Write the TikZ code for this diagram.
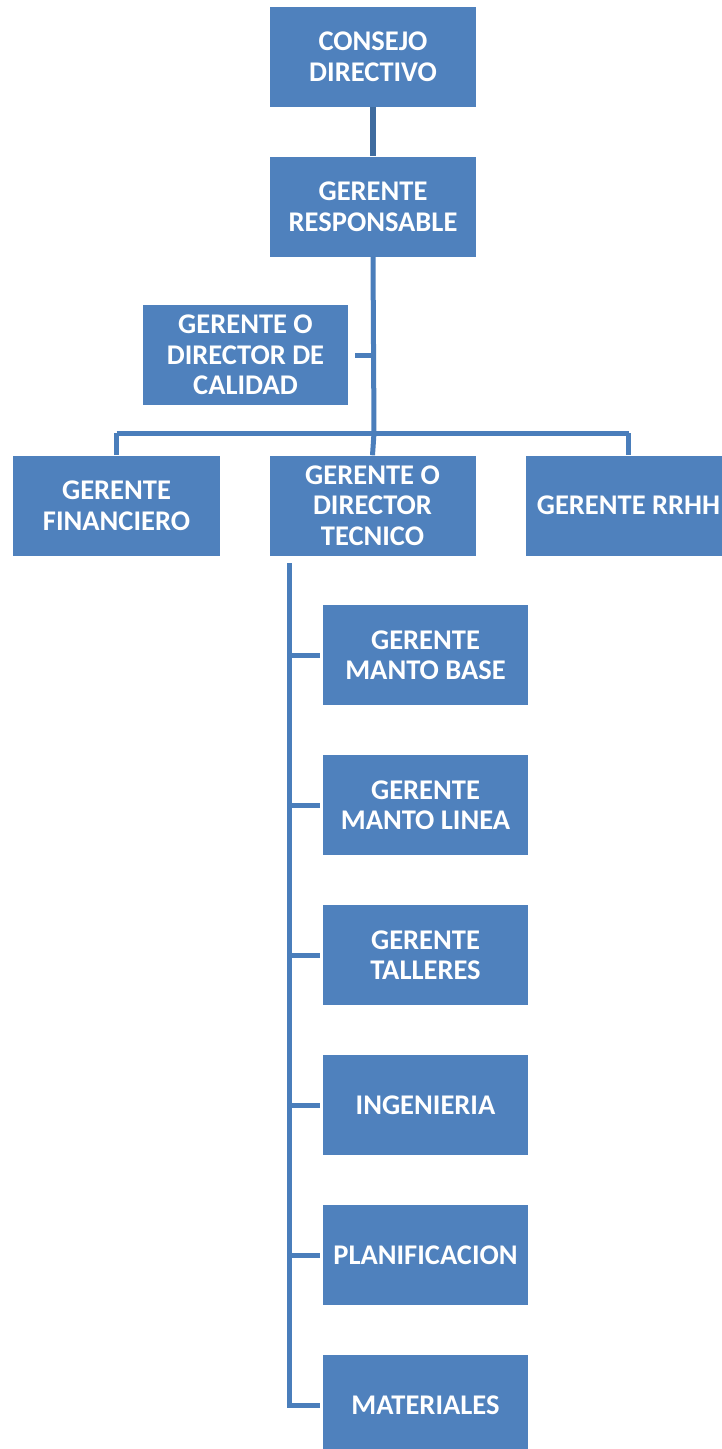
\documentclass[tikz,border=0pt]{standalone}
\usepackage{fontspec}
\setmainfont{Carlito}
\usetikzlibrary{positioning}
\usetikzlibrary{calc}

\definecolor{boxblue}{HTML}{4F81BD}
\definecolor{lineblue}{HTML}{4A7EBB}
\definecolor{topline}{HTML}{3F6C9F}

\tikzset{
    cargo/.style={fill=boxblue, text=white, font=\bfseries\fontsize{28.5}{30.5}\selectfont,
        align=center, inner sep=0pt, minimum width=206pt, minimum height=100pt},
    enlace/.style={draw=lineblue, line width=5pt},
}

\begin{document}
\begin{tikzpicture}[x=1pt, y=-1pt]
    \useasboundingbox (0,0) rectangle (721,1449);

    % niveles superiores
    \node[cargo] (consejo) at (373,56.5) {CONSEJO\\DIRECTIVO};
    \node[cargo] (responsable) at (373,206.5) {GERENTE\\RESPONSABLE};
    \node[cargo, minimum width=205pt] (calidad) at (245.5,355) {GERENTE O\\DIRECTOR DE\\CALIDAD};

    % gerencias
    \node[cargo, minimum width=207pt] (financiero) at (116.5,505.5) {GERENTE\\FINANCIERO};
    \node[cargo] (tecnico) at (372.5,505.5) {GERENTE O\\DIRECTOR\\TECNICO};
    \node[cargo] (rrhh) at (628.5,505.5) {GERENTE RRHH};

    % areas tecnicas
    \node[cargo, minimum width=205pt] (base) at (425.5,655) {GERENTE\\MANTO BASE};
    \node[cargo, minimum width=205pt] (linea) at (425.5,805) {GERENTE\\MANTO LINEA};
    \node[cargo, minimum width=205pt] (talleres) at (425.5,955) {GERENTE\\TALLERES};
    \node[cargo, minimum width=205pt] (ingenieria) at (425.5,1105) {INGENIERIA};
    \node[cargo, minimum width=205pt] (planificacion) at (425.5,1255) {PLANIFICACION};
    \node[cargo, minimum width=205pt] (materiales) at (425.5,1405) {MATERIALES};

    \coordinate (barra) at (374,433);
    \coordinate (eje) at (289,563);

    % conexiones
    \draw[draw=topline, line width=6pt] (consejo.south) -- (responsable.north);
    \draw[enlace] (responsable.south) -- (barra);
    \draw[enlace, shorten <=7pt] (calidad.east) -- (calidad.east -| barra);
    \draw[enlace] (financiero.north |- barra) -- (rrhh.north |- barra);
    \draw[enlace] (financiero.north |- barra) -- (financiero.north);
    \draw[enlace] (barra) -- (tecnico.north);
    \draw[enlace] (rrhh.north |- barra) -- (rrhh.north);
    \draw[enlace] (eje) |- ([xshift=-3pt]materiales.west);
    \foreach \area in {base, linea, talleres, ingenieria, planificacion}
        \draw[enlace, shorten >=3pt] (eje |- \area.west) -- (\area.west);
\end{tikzpicture}
\end{document}
